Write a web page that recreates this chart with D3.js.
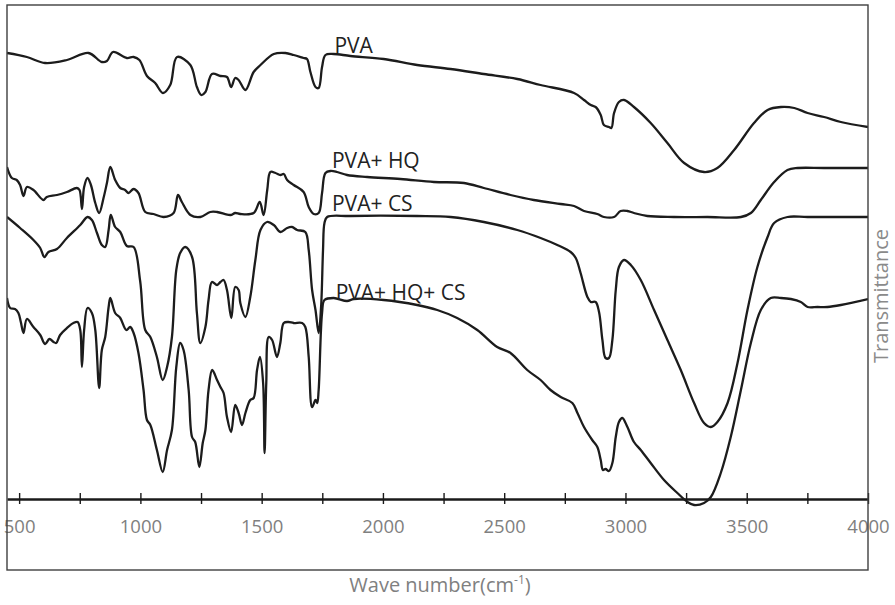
<!DOCTYPE html>
<html>
<head>
<meta charset="utf-8">
<script src="https://cdn.jsdelivr.net/npm/d3@7"></script>
<style>
  body { margin: 0; background: #fff; }
  svg { display: block; }
</style>
</head>
<body>
<svg id="ftirChart" width="895" height="605"></svg>
<script>
// spectra: [wave number (cm-1), transmittance (a.u., stacked)]
var pva = [[450,44.6],[532,44.2],[607,43.6],[697,43.9],[786,44.6],[841,43.7],[862,43.8],[887,44.7],[944,44.1],[972,44.2],[996,43.9],[1027,42.3],[1061,41.6],[1093,40.6],[1123,41.4],[1151,44.2],[1206,43.4],[1233,41.2],[1251,40.4],[1268,40.7],[1295,42.5],[1330,42.3],[1357,42.2],[1374,41.2],[1391,42.1],[1405,41.9],[1433,40.9],[1467,42.7],[1495,43.4],[1550,44.5],[1598,44.6],[1632,44.4],[1673,44.1],[1687,44.0],[1701,42.7],[1722,41.2],[1735,41.1],[1749,43.2],[1763,44.4],[1797,44.5],[1866,44.3],[2003,44.0],[2141,43.4],[2279,43.0],[2416,42.5],[2554,42.0],[2650,41.4],[2788,40.6],[2829,39.9],[2857,39.4],[2877,39.2],[2898,38.4],[2911,37.4],[2932,37.2],[2942,37.1],[2953,38.6],[2973,39.7],[2994,39.9],[3035,39.2],[3104,37.6],[3173,35.6],[3242,33.6],[3324,32.7],[3379,33.1],[3448,34.9],[3530,37.6],[3586,38.9],[3641,39.2],[3696,39.1],[3751,38.6],[3819,38.2],[3888,37.7],[4000,37.2]];

var pvaHq = [[450,33.2],[470,32.1],[490,31.9],[504,31.4],[518,30.3],[532,31.2],[559,30.9],[600,29.9],[614,30.2],[656,30.4],[697,30.7],[738,31.1],[749,30.9],[759,29.0],[768,31.2],[782,32.1],[796,31.4],[814,29.6],[830,28.6],[848,30.1],[862,31.6],[876,33.2],[896,31.9],[917,31.1],[937,30.9],[951,30.6],[972,31.0],[992,30.6],[1020,28.7],[1054,28.5],[1096,28.2],[1137,28.6],[1155,30.4],[1171,29.7],[1206,28.4],[1247,28.2],[1288,28.7],[1316,28.7],[1371,28.4],[1391,28.6],[1412,28.5],[1467,28.6],[1492,29.7],[1508,28.4],[1523,30.9],[1536,32.7],[1557,32.6],[1577,32.4],[1591,32.5],[1605,31.9],[1632,31.4],[1673,30.7],[1694,29.2],[1715,28.5],[1735,28.6],[1749,30.6],[1763,32.6],[1784,32.8],[1811,32.7],[1852,32.4],[1935,32.2],[2072,32.0],[2210,31.7],[2334,31.6],[2416,31.1],[2526,30.4],[2622,29.9],[2733,29.5],[2788,29.3],[2829,28.8],[2884,28.5],[2911,28.2],[2953,28.2],[2980,28.8],[3008,28.8],[3035,28.6],[3090,28.3],[3200,28.2],[3338,28.2],[3476,28.2],[3517,28.6],[3558,29.9],[3613,31.7],[3668,32.9],[3710,33.1],[3819,33.1],[4000,33.1]];

var pvaCs = [[450,28.2],[504,27.1],[559,25.9],[587,25.1],[604,24.2],[621,24.7],[656,25.0],[697,26.1],[752,27.4],[782,28.2],[800,27.9],[821,26.6],[841,25.4],[855,25.2],[869,26.9],[878,28.4],[896,27.2],[917,26.7],[944,25.3],[972,25.2],[999,21.8],[1020,16.9],[1041,16.2],[1068,14.2],[1092,11.9],[1110,13.2],[1130,16.2],[1148,22.9],[1164,24.6],[1185,25.2],[1213,24.2],[1233,18.6],[1247,15.6],[1268,17.2],[1281,19.9],[1295,21.7],[1316,21.4],[1330,21.7],[1343,21.9],[1357,20.9],[1375,18.1],[1391,21.2],[1405,20.9],[1412,19.6],[1433,18.2],[1453,20.2],[1474,23.9],[1495,26.9],[1522,27.7],[1550,27.4],[1577,26.7],[1605,27.1],[1625,27.2],[1646,26.9],[1680,26.7],[1694,24.9],[1708,20.9],[1722,18.9],[1735,16.6],[1745,19.2],[1753,24.9],[1759,27.6],[1770,28.2],[1866,28.3],[2141,28.3],[2279,28.2],[2416,27.7],[2554,26.9],[2650,26.1],[2719,25.4],[2774,24.7],[2795,24.1],[2815,22.6],[2843,20.2],[2857,19.7],[2877,19.7],[2891,18.7],[2905,15.9],[2918,14.1],[2932,14.1],[2946,15.9],[2960,20.9],[2973,23.2],[2994,23.9],[3022,23.4],[3063,21.9],[3118,18.9],[3173,15.9],[3228,12.9],[3283,9.6],[3324,7.6],[3352,7.2],[3379,7.7],[3421,9.6],[3462,13.6],[3503,18.9],[3544,23.2],[3586,26.2],[3613,27.6],[3668,28.2],[3751,28.2],[4000,28.2]];

var pvaHqCs = [[450,20.1],[463,19.1],[483,19.0],[497,18.6],[507,17.7],[518,16.6],[532,18.0],[559,17.2],[587,16.4],[607,15.5],[625,16.0],[642,15.7],[653,15.6],[669,16.4],[697,17.1],[724,17.6],[741,17.7],[752,16.9],[759,13.2],[768,16.9],[782,19.1],[800,18.6],[814,16.9],[830,11.1],[841,14.9],[855,16.2],[869,19.2],[876,20.1],[896,18.6],[917,18.1],[942,16.9],[958,17.2],[972,16.6],[992,14.6],[1013,10.9],[1027,7.9],[1041,7.4],[1068,4.9],[1092,2.7],[1110,4.9],[1130,6.9],[1148,13.2],[1164,15.6],[1178,14.9],[1199,10.9],[1213,6.2],[1226,5.7],[1243,3.2],[1257,5.6],[1268,6.9],[1281,10.9],[1296,12.9],[1316,11.9],[1330,11.2],[1343,10.6],[1357,8.2],[1374,6.7],[1391,9.4],[1405,8.6],[1419,7.4],[1433,8.6],[1453,9.9],[1467,10.1],[1481,12.9],[1493,14.2],[1506,11.6],[1512,4.6],[1519,11.6],[1529,16.2],[1543,15.9],[1563,14.2],[1577,15.6],[1591,17.6],[1611,17.7],[1632,17.6],[1667,17.6],[1680,17.2],[1694,14.2],[1708,9.2],[1722,9.9],[1729,9.6],[1735,10.9],[1749,18.6],[1759,19.9],[1797,20.1],[1852,19.8],[1880,20.0],[2003,19.9],[2141,19.4],[2224,18.9],[2306,18.1],[2389,16.9],[2471,15.2],[2526,14.6],[2595,12.9],[2650,11.9],[2691,10.9],[2733,10.2],[2781,9.6],[2802,8.6],[2829,7.2],[2863,5.9],[2884,5.2],[2898,3.9],[2907,2.9],[2918,3.0],[2932,2.8],[2946,3.6],[2960,6.2],[2973,7.7],[2987,8.1],[3008,7.2],[3035,5.7],[3063,4.9],[3104,3.6],[3159,1.9],[3214,0.6],[3256,-0.3],[3283,-0.6],[3324,-0.4],[3352,0.2],[3393,2.6],[3434,6.2],[3476,10.9],[3517,15.6],[3558,18.9],[3599,20.1],[3641,20.1],[3682,20.0],[3723,19.7],[3751,19.2],[3792,19.2],[3833,19.2],[3888,19.4],[4000,20.0]];

var seriesNames = ["PVA", "PVA+ HQ", "PVA+ CS", "PVA+ HQ+ CS"];
// where each name sits: [wave number, transmittance]
var labelSpots = [[1800, 44.6], [1790, 33.1], [1790, 28.8], [1805, 19.9]];
var tickValues = [500, 750, 1000, 1250, 1500, 1750, 2000, 2250, 2500, 2750, 3000, 3250, 3500, 3750, 4000];
var tickLabels = [500, 1000, 1500, 2000, 2500, 3000, 3500, 4000];

var svg = d3.select("#ftirChart"),
    width = +svg.attr("width"),
    height = +svg.attr("height");

var box = { left: 7, top: 5, right: 868, bottom: 570 };

var x = d3.scaleLinear()
    .domain([450, 4000])
    .range([box.left, box.right]);

var y = d3.scaleLinear()
    .domain([0, 50])
    .range([499, -1]);

svg.append("clipPath").attr("id", "plotClip")
    .append("rect")
    .attr("x", box.left).attr("y", box.top)
    .attr("width", box.right - box.left).attr("height", box.bottom - box.top);

// x axis sits inside the box, ticks cross the line
var xAxis = d3.axisBottom(x)
    .tickValues(tickValues)
    .tickSizeOuter(0)
    .tickSizeInner(5)
    .tickFormat(function(d) { return tickLabels.indexOf(d) > -1 ? d : ""; });

var axisG = svg.append("g")
    .attr("transform", "translate(0," + y(0) + ")")
    .call(xAxis);

axisG.select(".domain").attr("stroke", "#1a1a1a").attr("stroke-width", 2.3);
axisG.selectAll(".tick line")
    .attr("y1", -6).attr("y2", 5)
    .attr("stroke", "#1a1a1a").attr("stroke-width", 1.4);
axisG.selectAll(".tick text")
    .attr("y", 21)
    .attr("dy", "0.71em")
    .style("font-family", "'Open Sans', sans-serif")
    .style("font-size", "18.5px")
    .attr("fill", "#808080");

var line = d3.line()
    .x(function(d) { return x(d[0]); })
    .y(function(d) { return y(d[1]); })
    .curve(d3.curveCatmullRom.alpha(0.5));

svg.append("g")
    .attr("clip-path", "url(#plotClip)")
    .selectAll("path")
    .data([pva, pvaHq, pvaCs, pvaHqCs])
    .enter()
    .append("path")
    .attr("d", line)
    .attr("fill", "none")
    .attr("stroke", "#1c1c1c")
    .attr("stroke-width", 2.3)
    .attr("stroke-linejoin", "round");

svg.append("g")
    .selectAll("text")
    .data(seriesNames)
    .enter()
    .append("text")
    .attr("x", function(d, i) { return x(labelSpots[i][0]); })
    .attr("y", function(d, i) { return y(labelSpots[i][1]); })
    .style("font-family", "'Open Sans', sans-serif")
    .style("font-size", "21px")
    .attr("fill", "#222")
    .text(function(d) { return d; });

// frame drawn last so it runs over the 500 / 4000 labels like the original
svg.append("rect")
    .attr("x", box.left).attr("y", box.top)
    .attr("width", box.right - box.left).attr("height", box.bottom - box.top)
    .attr("fill", "none")
    .attr("stroke", "#3f3f3f")
    .attr("stroke-width", 1.4);

var xTitle = svg.append("text")
    .attr("x", 440)
    .attr("y", 592)
    .attr("text-anchor", "middle")
    .style("font-family", "'Open Sans', sans-serif")
    .style("font-size", "20px")
    .attr("fill", "#808080");
xTitle.append("tspan").text("Wave number(cm");
xTitle.append("tspan").attr("dy", -8).style("font-size", "12px").text("-1");
xTitle.append("tspan").attr("dy", 8).text(")");

svg.append("text")
    .attr("transform", "translate(888,296) rotate(-90)")
    .attr("text-anchor", "middle")
    .style("font-family", "'Open Sans', sans-serif")
    .style("font-size", "20px")
    .attr("fill", "#8a8a8a")
    .text("Transmittance");
</script>
</body>
</html>
